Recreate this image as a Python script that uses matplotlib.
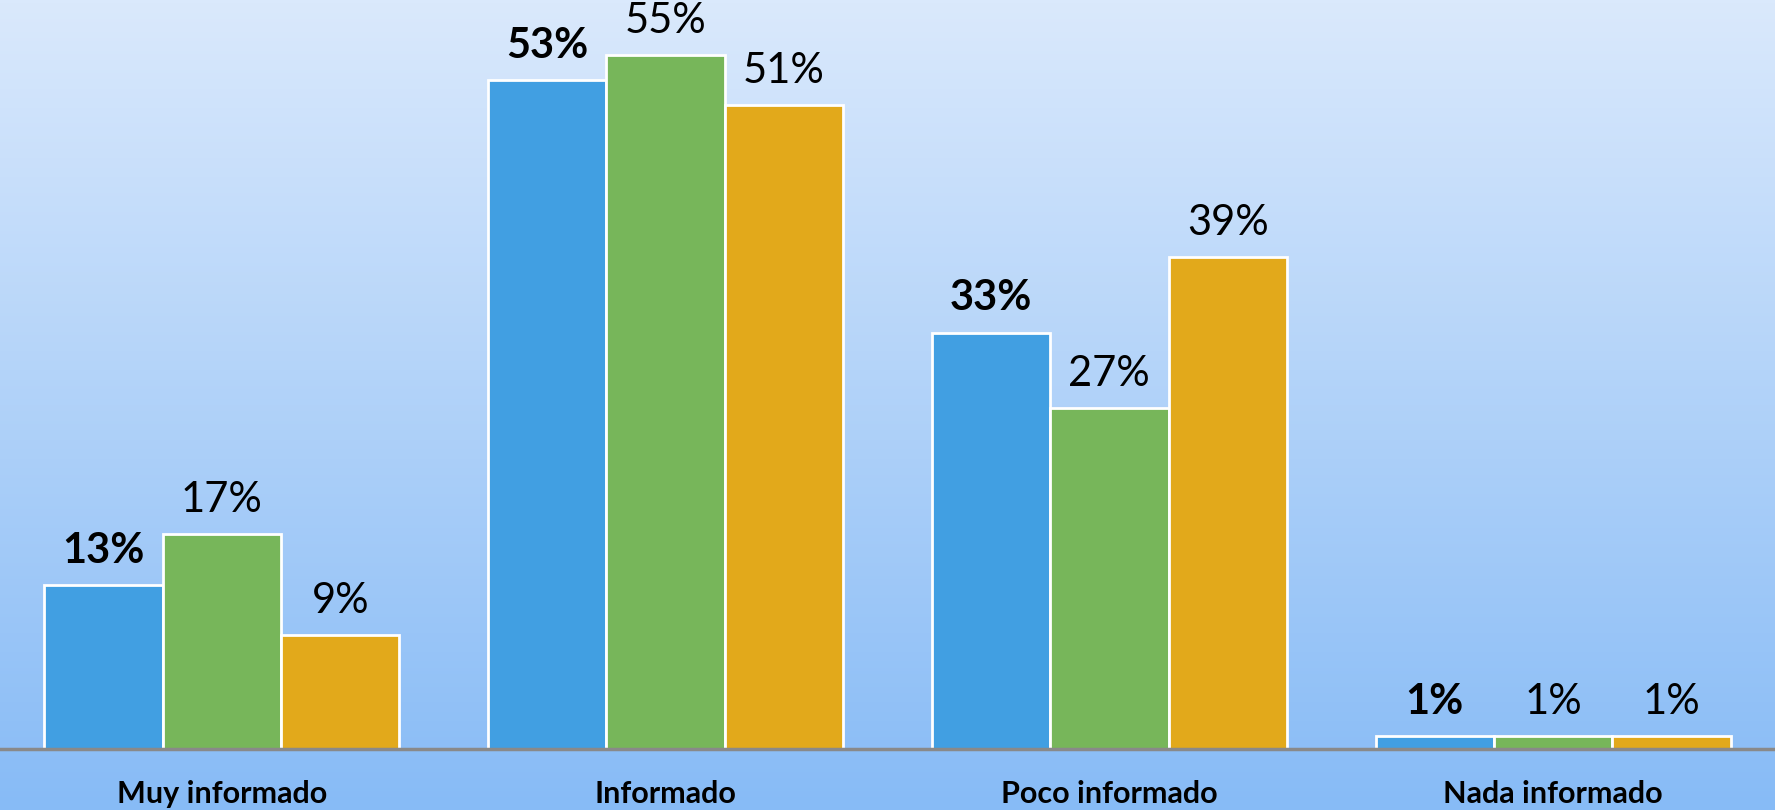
import matplotlib
matplotlib.use('Agg')
import matplotlib.pyplot as plt
import numpy as np

plt.rcParams['font.family'] = ['Lato', 'DejaVu Sans']

categories = ['Muy informado', 'Informado', 'Poco informado', 'Nada informado']
serie_1 = [13, 53, 33, 1]
serie_2 = [17, 55, 27, 1]
serie_3 = [9, 51, 39, 1]
colors = ['#419FE2', '#77B65A', '#E2A91B']

fig = plt.figure(figsize=(17.75, 8.1), dpi=100)

# background gradient
bg = fig.add_axes([0, 0, 1, 1], zorder=0)
top = np.array([218, 233, 252]) / 255
bottom = np.array([135, 187, 246]) / 255
t = np.linspace(0, 1, 256)[:, None]
grad = top * (1 - t) + bottom * t
bg.imshow(grad[:, None, :], aspect='auto', extent=[0, 1, 0, 1])
bg.axis('off')

ax = fig.add_axes([0, 0.0753, 1, 0.9247], zorder=1)
ax.patch.set_alpha(0)

x = np.arange(len(categories))
width = 0.8 / 3
series = [serie_1, serie_2, serie_3]
for i, vals in enumerate(series):
    pos = x + (i - 1) * width
    bars = ax.bar(pos, vals, width, color=colors[i], edgecolor='white', linewidth=2)
    for b, v in zip(bars, vals):
        ax.annotate(f'{v}%', xy=(b.get_x() + b.get_width() / 2, v), xytext=(0, 11),
                    textcoords='offset points', ha='center', va='bottom', fontsize=30,
                    fontweight='bold' if i == 0 else 'normal', color='black')

ax.set_xlim(-0.5, len(categories) - 0.5)
ax.set_ylim(0, 59.35)
ax.set_xticks(x)
ax.set_xticklabels(categories, fontsize=22, fontweight='bold')
ax.tick_params(axis='x', length=0, pad=22)
ax.set_yticks([])
for s in ['top', 'right', 'left']:
    ax.spines[s].set_visible(False)
ax.spines['bottom'].set_color('#898989')
ax.spines['bottom'].set_linewidth(2.5)

plt.savefig('out.png', dpi=100)
plt.close()
